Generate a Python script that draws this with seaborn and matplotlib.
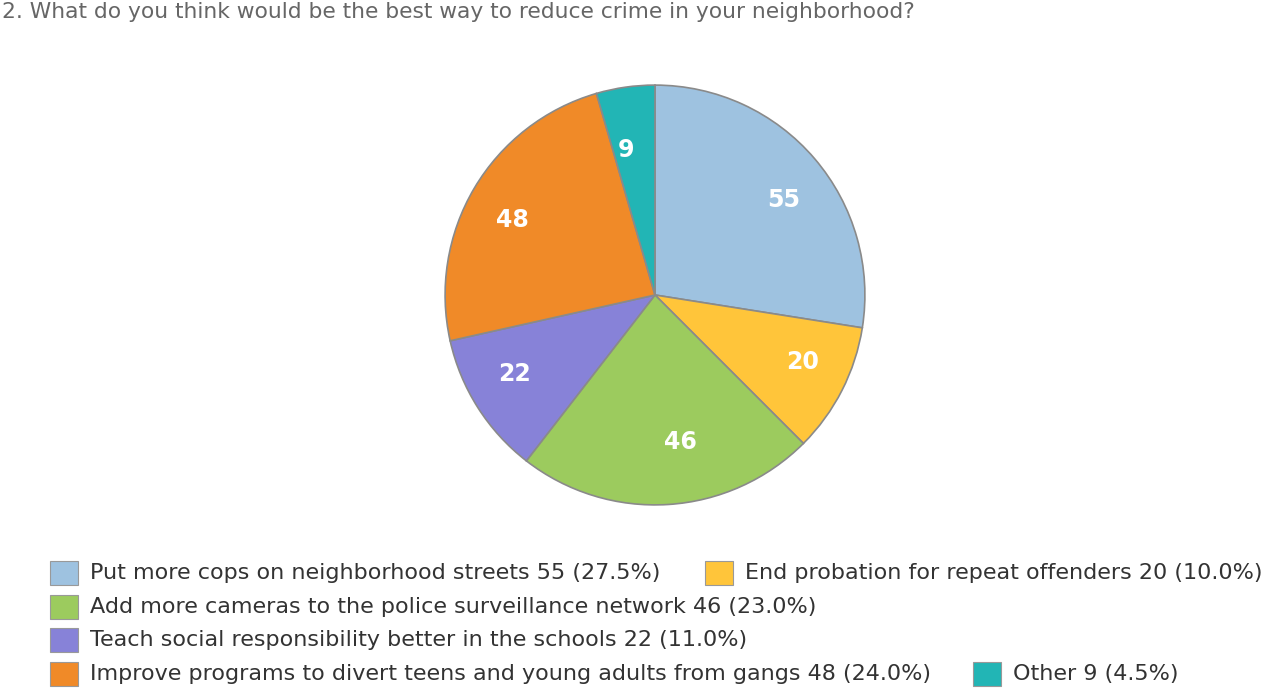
import matplotlib
matplotlib.use("Agg")
import matplotlib.pyplot as plt
import seaborn as sns
from matplotlib.patches import Rectangle

sns.set_theme(style="white")
plt.rcParams['font.family'] = ['DejaVu Sans']

labels = ["Put more cops on neighborhood streets", "End probation for repeat offenders",
          "Add more cameras to the police surveillance network",
          "Teach social responsibility better in the schools",
          "Improve programs to divert teens and young adults from gangs", "Other"]
values = [55, 20, 46, 22, 48, 9]
colors = ["#9ec2e0", "#ffc53a", "#9ccb5e", "#8782d8", "#f08a28", "#22b5b5"]

fig = plt.figure(figsize=(12.62, 6.89), dpi=100)
W, H = 1262, 689
cx, cy, r = 655, 295, 212
ax = fig.add_axes([(cx - r) / W, (H - cy - r) / H, 2 * r / W, 2 * r / H])
wedges, texts = ax.pie(values, colors=colors, startangle=90, counterclock=False,
                       labels=[str(v) for v in values], labeldistance=0.7,
                       wedgeprops=dict(edgecolor="#8a8a8a", linewidth=1.2),
                       textprops=dict(color="white", fontsize=17, fontweight="bold"))
ax.set_xlim(-1.01, 1.01); ax.set_ylim(-1.01, 1.01); ax.set_aspect("equal"); ax.axis("off")

renderer = fig.canvas.get_renderer()

def fit(t, target_px):
    w = t.get_window_extent(renderer).width
    t.set_fontsize(t.get_fontsize() * target_px / w)

title = fig.text(2 / W, 1 - 12 / H, "2. What do you think would be the best way to reduce crime in your neighborhood?",
                 fontsize=12, color="#666666", va="center", ha="left")
fit(title, 910)

total = sum(values)
layout = [(0, 50, 573), (1, 705, 573), (2, 50, 607), (3, 50, 640), (4, 50, 674), (5, 973, 674)]
ts = []
for i, x, y in layout:
    fig.patches.append(Rectangle((x / W, 1 - (y + 12) / H), 28 / W, 24 / H, transform=fig.transFigure,
                                 facecolor=colors[i], edgecolor="#999999", linewidth=0.8))
    ts.append(fig.text((x + 40) / W, 1 - y / H, f"{labels[i]} {values[i]} ({values[i] / total * 100:.1f}%)",
                       fontsize=14, color="#333333", va="center", ha="left"))
w4 = ts[4].get_window_extent(renderer).width
size = 14 * 843 / w4
for t in ts:
    t.set_fontsize(size)

fig.savefig("out.png", dpi=100)
